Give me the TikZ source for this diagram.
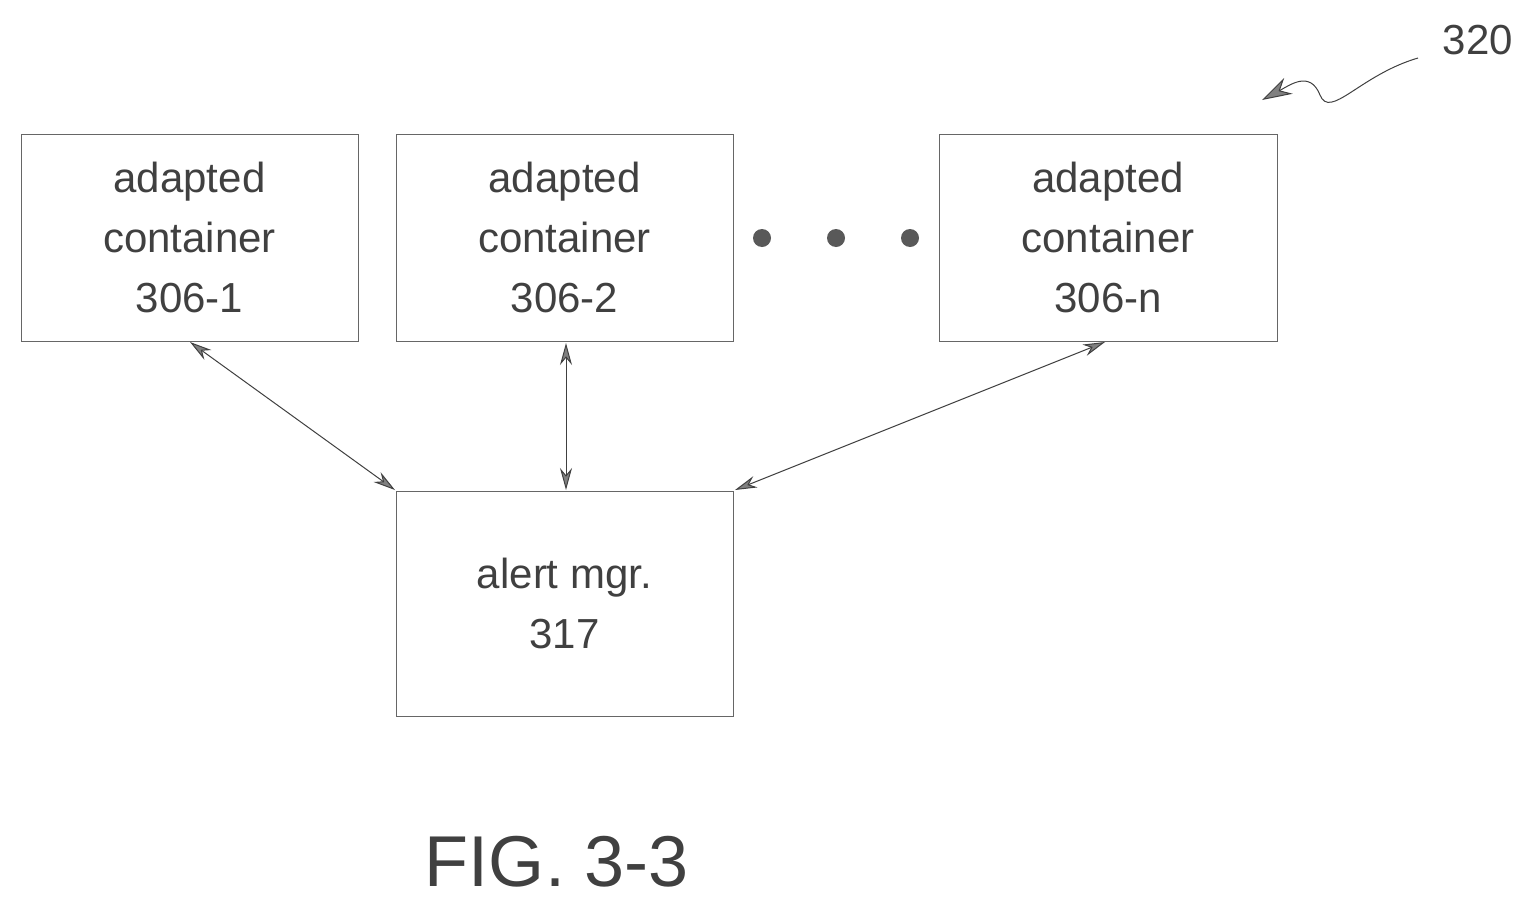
\documentclass[tikz,border=0pt]{standalone}
\usepackage{fontspec}
\setmainfont{Liberation Sans}
\usetikzlibrary{arrows.meta}
\begin{document}
\begin{tikzpicture}[x=1pt,y=-1pt,
  box/.style={draw=black!60,line width=0.8pt,align=center,text=black!75,font=\fontsize{42}{60}\selectfont},
  link/.style={draw=black!75,line width=1pt,{Stealth[length=22pt,width=12pt,fill=black!50]}-{Stealth[length=22pt,width=12pt,fill=black!50]}}]
\useasboundingbox (0,0) rectangle (1538,910);
\node[box,minimum width=337pt,minimum height=207pt] (c1) at (189.5,237.5) {adapted\\container\\306-1};
\node[box,minimum width=337pt,minimum height=207pt] (c2) at (564.5,237.5) {adapted\\container\\306-2};
\node[box,minimum width=338pt,minimum height=207pt] (cn) at (1108,237.5) {adapted\\container\\306-n};
\node[box,minimum width=337pt,minimum height=225pt] (am) at (564.5,603.5) {alert mgr.\\317};
\foreach \x/\n in {762/d1,836/d2,910/d3}{\node[circle,fill=black!65,inner sep=0pt,minimum size=18pt] (\n) at (\x,238) {};}
\coordinate (a1) at (190,342); \coordinate (b1) at (395,490);
\coordinate (a2) at (566,343); \coordinate (b2) at (566,490);
\coordinate (a3) at (1105,342); \coordinate (b3) at (735,490);
\draw[link] (a1) -- (b1);
\draw[link] (a2) -- (b2);
\draw[link] (a3) -- (b3);
\node[text=black!75,font=\fontsize{42}{50}\selectfont] (lbl) at (1478,40) {320};
\coordinate (s0) at (1418,58); \coordinate (s1) at (1262,100);
\draw[draw=black!75,line width=1pt,-{Stealth[length=30pt,width=18pt,fill=black!50]}] (s0) .. controls (1360,75) and (1330,120) .. (1320,95) .. controls (1310,70) and (1290,85) .. (s1);
\node[text=black!75,font=\fontsize{72}{80}\selectfont] (fig) at (557,862) {FIG. 3-3};
\end{tikzpicture}
\end{document}
